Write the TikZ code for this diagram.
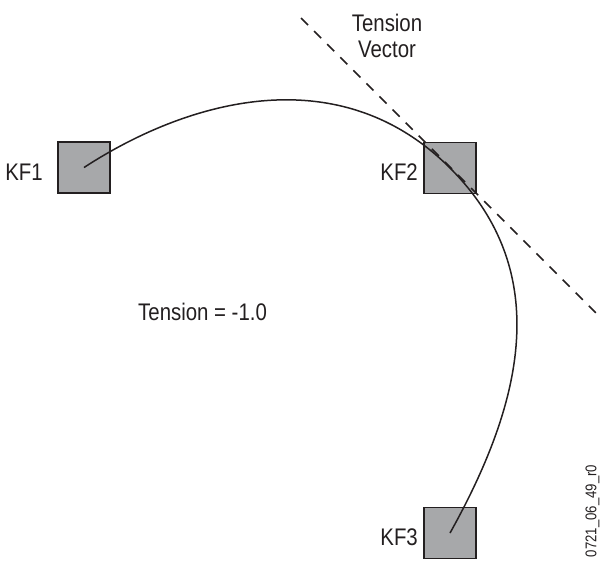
\documentclass[tikz,border=0pt]{standalone}
\usepackage{fontspec}
\setmainfont[FakeStretch=0.85]{Liberation Sans}
\definecolor{ink}{HTML}{231F20}
\definecolor{keyfill}{HTML}{A7A8AA}
\begin{document}
\begin{tikzpicture}[x=1pt,y=-1pt,
  keybox/.style={draw=ink,fill=keyfill,line width=1.5pt,minimum width=52pt,minimum height=51pt,inner sep=0pt},
  lbl/.style={text=ink,font=\fontsize{24}{26}\selectfont,inner sep=0pt},
  pathline/.style={draw=ink,line width=1.5pt},
  vecline/.style={draw=ink,line width=1.5pt,dash pattern=on 10pt off 8.5pt}]
\useasboundingbox (0,0) rectangle (609,563);
\node[keybox] (kf1) at (84,167.5) {};
\node[keybox] (kf2) at (450,168) {};
\node[keybox] (kf3) at (450,533) {};
\node[lbl,anchor=base east] (l1) at (43,180) {KF1};
\node[lbl,anchor=base east] (l2) at (418,180) {KF2};
\node[lbl,anchor=base east] (l3) at (418,545) {KF3};
\node[lbl,anchor=base] (tv) at (387,31) {Tension};
\node[lbl,anchor=base] (tv2) at (387,57) {Vector};
\node[lbl,anchor=base west] (tn) at (138,320) {Tension = -1.0};
\node[text=ink,font=\fontsize{15.5}{18}\selectfont,inner sep=0pt,rotate=90] (id) at (592.5,511) {0721\_06\_49\_r0};
\coordinate (va) at (301,18);
\coordinate (vb) at (600,317);
\draw[pathline] (kf1.center) .. controls +(106,-69) and +(-110,-110) .. (kf2.center)
  .. controls +(105,105) and +(72,-129) .. (kf3.center);
\draw[vecline] (va) -- (vb);
\end{tikzpicture}
\end{document}
